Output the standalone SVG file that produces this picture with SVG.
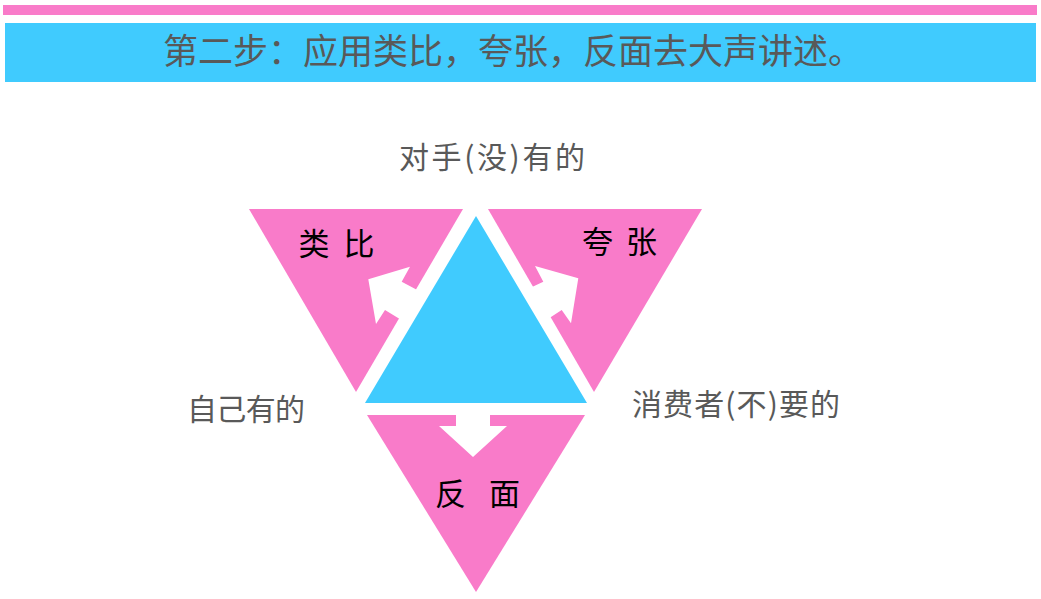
<svg xmlns="http://www.w3.org/2000/svg" width="1041" height="599" viewBox="0 0 1041 599">
<style>
.pink{fill:#F97BC9}
.blue{fill:#40CBFE}
.arrow{fill:#FFFFFF}
.gray{font-family:"Noto Sans CJK SC","Noto Sans",sans-serif;fill:#595959}
.lbl{font-family:"Noto Sans CJK SC","Noto Sans",sans-serif;fill:#000000;font-size:31px}
</style>
<rect width="1041" height="599" fill="#FFFFFF"/>
<g id="header">
<rect x="3" y="5" width="1034" height="10" class="pink"/>
<rect x="5" y="23" width="1031" height="59" class="blue"/>
<text x="163" y="64" class="gray" font-size="35" textLength="700" lengthAdjust="spacing">第二步：应用类比，夸张，反面去大声讲述。</text>
</g>
<g id="node-analogy">
<polygon points="249,209 463,209 356,392" class="pink"/>
<text x="298.5" y="255" class="lbl" textLength="76" lengthAdjust="spacing">类 比</text>
</g>
<g id="node-exaggeration">
<polygon points="488,209 702,209 594,392" class="pink"/>
<text x="582" y="253" class="lbl" textLength="75" lengthAdjust="spacing">夸 张</text>
</g>
<g id="node-opposite">
<polygon points="367,415 585,415 476,592" class="pink"/>
<text x="435" y="505" class="lbl" textLength="85" lengthAdjust="spacing">反 面</text>
</g>
<g id="connectors">
<polygon class="arrow" points="368.3,279.3 410,266.7 401.7,281.7 421,292 403,321 385,310 376,324"/>
<polygon class="arrow" points="578.3,278.3 535,266 543.3,281.7 528.3,288.8 548.3,318.8 561.7,310 571,323.3"/>
<polygon class="arrow" points="456,408 490,408 490,426 507,426 473,457 439,426 456,426"/>
</g>
<g id="node-center">
<polygon points="476,216 365,403 587,403" class="blue"/>
</g>
<g id="labels">
<text x="399" y="168" class="gray" font-size="30" textLength="186" lengthAdjust="spacing">对手(没)有的</text>
<text x="187" y="420" class="gray" font-size="30" textLength="118" lengthAdjust="spacing">自己有的</text>
<text x="632" y="415" class="gray" font-size="30" textLength="208" lengthAdjust="spacing">消费者(不)要的</text>
</g>
</svg>
